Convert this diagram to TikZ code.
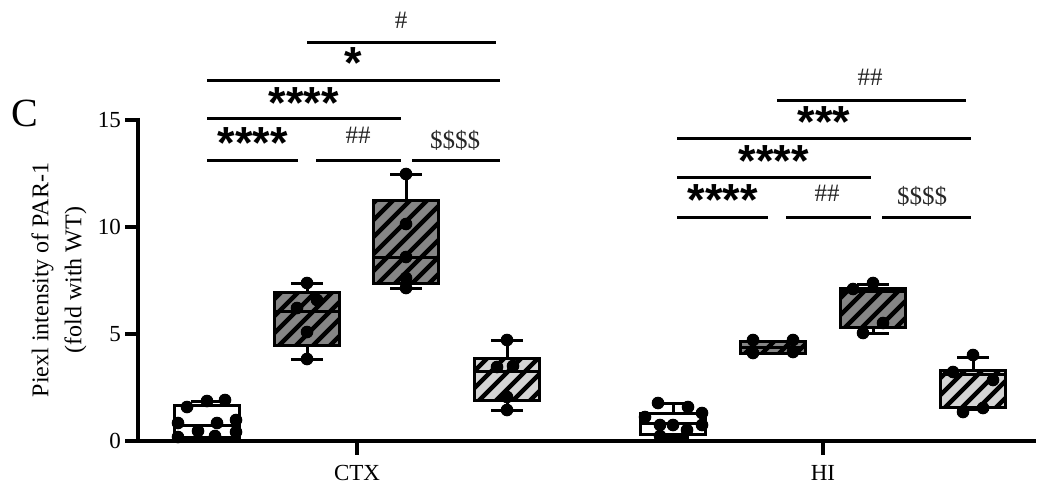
\documentclass[tikz,border=0pt]{standalone}
\usepackage{fontspec}
\setmainfont{Liberation Serif}
\newfontfamily\starfont{Liberation Sans}
\definecolor{darkfill}{gray}{0.52}
\definecolor{lightfill}{gray}{0.83}
\tikzset{
  axisline/.style={line width=4pt},
  sigbar/.style={line width=3pt},
  boxline/.style={line width=3pt},
  datadot/.style={fill=black},
  ticklabel/.style={font=\fontsize{23}{27}\selectfont, inner sep=0pt},
  siglabel/.style={font=\fontsize{25}{29}\selectfont, inner sep=0pt, text=black!85},
  starlabel/.style={font=\fontsize{45}{50}\selectfont\starfont\bfseries, inner sep=0pt, anchor=base},
}
% #1 cx, #2 box top, #3 box bottom, #4 median, #5 whisker top, #6 whisker bottom, #7 fill, #8 hatch (1/0)
\newcommand\plotbox[8]{%
  \fill[#7] (#1-32.5,#2) rectangle (#1+32.5,#3);
  \ifnum#8=1
  \begin{scope}
    \clip (#1-32.5,#2) rectangle (#1+32.5,#3);
    \foreach \k in {-7,...,5} \draw[line width=4.5pt] ({#1-32.5+\k*17},#3+5) -- ++(110,-110);
  \end{scope}
  \fi
  \draw[boxline] (#1-32.5,#2) rectangle (#1+32.5,#3);
  \draw[boxline] (#1-32.5,#4) -- (#1+32.5,#4);
  \draw[boxline] (#1,#2) -- (#1,#5) (#1-16,#5) -- (#1+16,#5);
  \draw[boxline] (#1,#3) -- (#1,#6) (#1-16,#6) -- (#1+16,#6);
}
\newcommand\plotdots[1]{\foreach \p in {#1} \fill[datadot] (\p) circle (6.3);}
\begin{document}
\begin{tikzpicture}[x=1pt,y=-1pt]
\useasboundingbox (0,0) rectangle (1038,492);
% panel letter
\node[font=\fontsize{40}{44}\selectfont, inner sep=0pt] (panel) at (25,113) {C};
% y axis
\draw[axisline] (138,118) -- (138,441);
\foreach \v/\yy in {0/441,5/334,10/227,15/120}{
  \draw[axisline] (125,\yy) -- (138,\yy);
  \node[ticklabel, anchor=east] (t\v) at (121,\yy) {\v};
}
\node[font=\fontsize{24}{33}\selectfont, rotate=90, align=center, inner sep=0pt] (ylab) at (59,280)
  {Piexl intensity of PAR-1\\(fold with WT)};
% x axis
\draw[axisline] (125,441) -- (1036,441);
\draw[axisline] (357,441) -- (357,455);
\draw[axisline] (823,441) -- (823,455);
\node[ticklabel] (ctx) at (357,473) {CTX};
\node[ticklabel] (hi) at (823,473) {HI};
% boxes CTX
\plotbox{207}{405}{437}{425}{401}{438}{white}{0}
\plotdots{{178,437},{178,423},{187,407},{207,401},{225,400},{217,423},{236,420},{236,432},{198,431},{215,436}}
\plotbox{307}{292}{345}{311}{283}{359}{darkfill}{1}
\plotdots{{307,283},{317,300},{297,308},{307,332},{307,359}}
\plotbox{406}{200}{283}{257}{174}{288}{darkfill}{1}
\plotdots{{406,174},{406,224},{406,257},{406,278},{406,288}}
\plotbox{507}{358}{400}{371}{340}{410}{lightfill}{1}
\plotdots{{507,340},{497,367},{513,366},{507,397},{507,410}}
% boxes HI
\plotbox{673}{413}{434}{423}{403}{437}{white}{0}
\plotdots{{658,403},{688,407},{645,417},{702,413},{702,425},{660,425},{673,425},{687,430},{660,436}}
\plotbox{773}{341}{353}{347}{341}{353}{darkfill}{1}
\plotdots{{753,340},{793,340},{753,353},{793,352}}
\plotbox{873}{288}{327}{291}{284}{333}{darkfill}{1}
\plotdots{{873,283},{853,289},{883,323},{863,333}}
\plotbox{973}{370}{407}{374}{357}{409}{lightfill}{1}
\plotdots{{973,355},{953,372},{993,380},{963,412},{983,408}}
% significance CTX
\draw[sigbar] (207,160) -- (298,160) (316,160) -- (401,160) (412,160) -- (500,160);
\node[starlabel] (c1) at (253,158) {****};
\node[siglabel] (c2) at (358,135) {\#\#};
\node[siglabel] (c3) at (455,140) {\$\$\$\$};
\draw[sigbar] (207,119) -- (401,119);
\node[starlabel] (c4) at (304,119) {****};
\draw[sigbar] (207,81) -- (500,81);
\node[starlabel] (c5) at (353,79) {*};
\draw[sigbar] (307,43) -- (496,43);
\node[siglabel] (c6) at (401,20) {\#};
% significance HI
\draw[sigbar] (677,217) -- (768,217) (786,217) -- (871,217) (882,217) -- (971,217);
\node[starlabel] (h1) at (723,215) {****};
\node[siglabel] (h2) at (827,193) {\#\#};
\node[siglabel] (h3) at (922,196) {\$\$\$\$};
\draw[sigbar] (677,177) -- (871,177);
\node[starlabel] (h4) at (774,176) {****};
\draw[sigbar] (677,138) -- (971,138);
\node[starlabel] (h5) at (824,137) {***};
\draw[sigbar] (777,101) -- (966,101);
\node[siglabel] (h6) at (870,77) {\#\#};
\end{tikzpicture}
\end{document}
